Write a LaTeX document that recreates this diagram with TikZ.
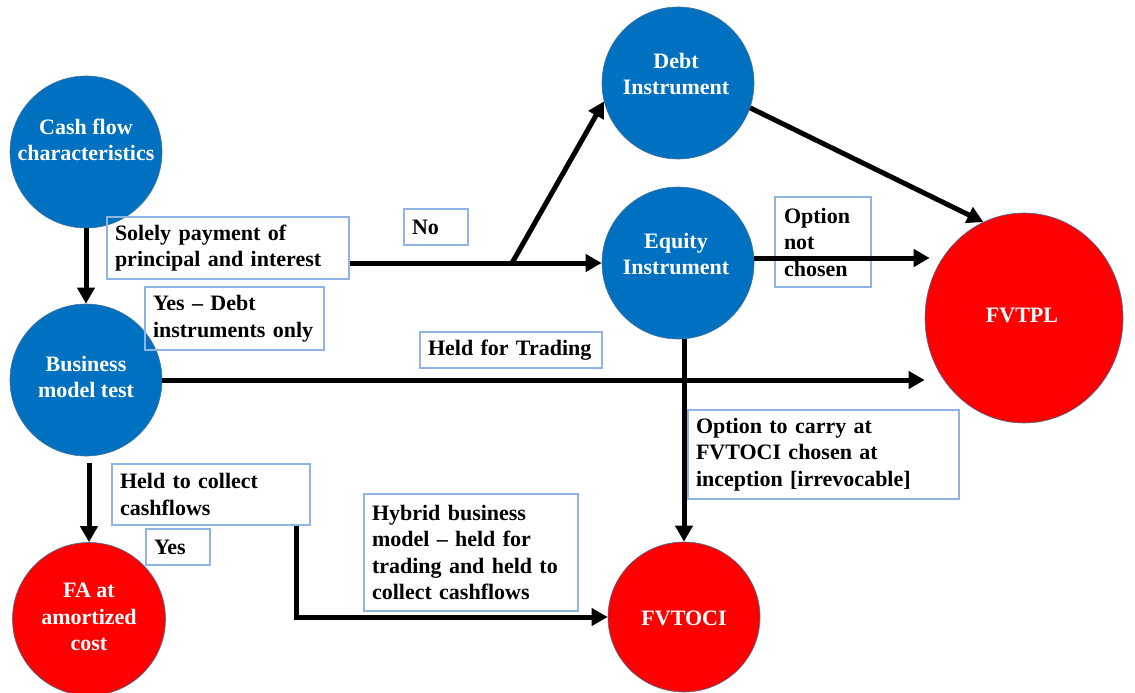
\documentclass[tikz,border=0pt]{standalone}
\usepackage{fontspec}
\setmainfont{Liberation Serif}
\usetikzlibrary{arrows.meta,shapes.geometric}
\definecolor{nodeblue}{HTML}{0070C0}
\definecolor{nodered}{HTML}{FF0000}
\definecolor{rimblue}{HTML}{41719C}
\definecolor{boxline}{HTML}{8FB4E3}
\begin{document}
\begin{tikzpicture}[x=1pt,y=-1pt,
  bluecirc/.style={circle, fill=nodeblue, draw=rimblue, line width=0.6pt, minimum size=152pt, inner sep=0pt},
  redcirc/.style={ellipse, fill=nodered, draw=rimblue, line width=0.6pt, inner sep=0pt},
  ctext/.style={text=white, font=\fontsize{22}{26.5}\selectfont\bfseries, align=center, inner sep=0pt},
  note/.style={draw=boxline, line width=1.1pt, inner xsep=8pt, inner ysep=0pt, align=left,
    font=\fontsize{22}{26.5}\selectfont\bfseries},
  arr/.style={line width=5pt, -{Triangle[length=16pt,width=17pt]}}
]
\useasboundingbox (0,0) rectangle (1135,693);

% decision and outcome circles
\node[bluecirc] (cash) at (86,152) {};
\node[bluecirc] (bus) at (86,380) {};
\node[redcirc, minimum width=153pt, minimum height=153pt] (fa) at (89,619) {};
\node[bluecirc] (debt) at (678,83) {};
\node[bluecirc] (eq) at (678,263) {};
\node[redcirc, minimum width=198pt, minimum height=210pt] (fvtpl) at (1024,318) {};
\node[redcirc, minimum width=152pt, minimum height=150pt] (fvtoci) at (684,617) {};

% circle captions
\node[ctext] (cashT) at (86,140) {Cash flow\\characteristics};
\node[ctext] (busT) at (86,377) {Business\\model test};
\node[ctext] (faT) at (89,617) {FA at\\amortized\\cost};
\node[ctext] (debtT) at (676,74) {Debt\\Instrument};
\node[ctext] (eqT) at (676,254) {Equity\\Instrument};
\node[ctext] (fvtplT) at (1022,315) {FVTPL};
\node[ctext] (fvtociT) at (684,618) {FVTOCI};

% condition boxes
\node[note, minimum height=62pt, text width=226pt] (spi) at (228,248) {Solely payment of\\principal and interest};
\node[note, minimum height=63pt, text width=163pt] (yesdebt) at (234.5,318.5) {Yes -- Debt\\instruments only};
\node[note, minimum height=36pt, text width=48pt] (no) at (436,227) {No};
\node[note, minimum height=90pt, text width=78pt, inner xsep=9pt] (optnot) at (823,242) {Option\\not\\chosen};
\node[note, minimum height=36pt, text width=166pt] (hft) at (511,350) {Held for Trading};
\node[note, minimum height=89pt, text width=255pt] (optcarry) at (823.5,454.5) {Option to carry at\\FVTOCI chosen at\\inception [irrevocable]};
\node[note, minimum height=61pt, text width=182pt] (htc) at (211,494.5) {Held to collect\\cashflows};
\node[note, minimum height=36pt, text width=48pt] (yes) at (178,547) {Yes};
\node[note, minimum height=117pt, text width=198pt] (hybrid) at (471,552.5) {Hybrid business\\model -- held for\\trading and held to\\collect cashflows};

% connectors
\coordinate (fork) at (512,263);
\draw[arr] (cash) -- (bus);
\draw[arr] (spi.east |- eq) -- (eq);
\draw[arr] (fork) -- (debt.194);
\draw[arr] (debt.-19) -- (fvtpl.113);
\draw[arr] ([yshift=5pt]eq.east) -- ([yshift=5pt,xshift=5pt]eq.east -| fvtpl.west);
\draw[arr] (bus) -- (bus -| fvtpl.west);
\draw[arr] (eq.south -| fvtoci.north) -- (fvtoci.north);
\draw[arr] ([yshift=-7pt]bus.south -| fa.north) -- (fa.north);
\draw[arr] ([xshift=-14pt]htc.south east) |- (fvtoci.west);
\end{tikzpicture}
\end{document}
